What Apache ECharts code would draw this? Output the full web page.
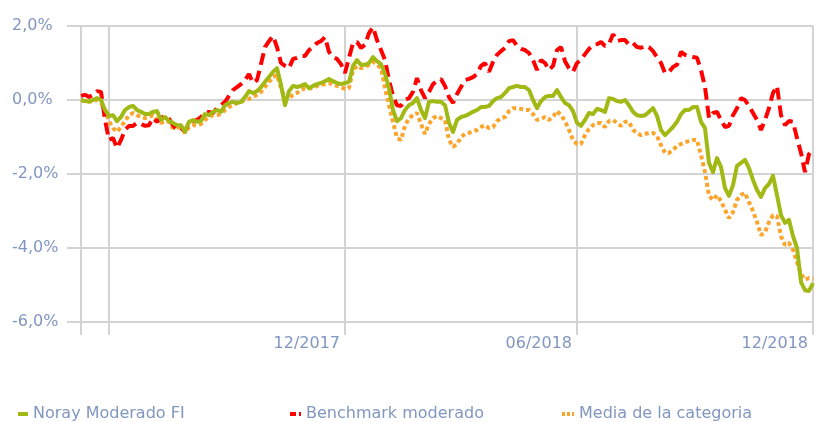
<!DOCTYPE html>
<html><head><meta charset="utf-8">
<script src="https://cdn.jsdelivr.net/npm/echarts@6/dist/echarts.min.js"></script>
<style>html,body{margin:0;padding:0;background:#fff}#c{width:820px;height:422px}</style>
</head><body><div id="c"></div><script>
// Series values (% return), one point per sampled date
const noray = [
 0.00,-0.03,-0.04,0.00,0.05,0.00,-0.27,-0.43,-0.41,-0.57,
 -0.46,-0.27,-0.19,-0.16,-0.27,-0.32,-0.38,-0.38,-0.32,-0.30,
 -0.54,-0.46,-0.57,-0.62,-0.68,-0.68,-0.86,-0.59,-0.54,-0.59,
 -0.57,-0.38,-0.41,-0.32,-0.27,-0.32,-0.14,-0.08,-0.05,-0.08,
 -0.05,0.08,0.24,0.19,0.24,0.35,0.49,0.62,0.76,0.86,
 0.41,-0.14,0.24,0.38,0.35,0.38,0.43,0.32,0.38,0.43,
 0.46,0.51,0.57,0.51,0.46,0.43,0.46,0.49,0.92,1.08,
 0.95,0.95,1.00,1.16,1.05,0.97,0.70,0.32,-0.27,-0.57,
 -0.49,-0.27,-0.14,-0.08,0.05,-0.27,-0.49,-0.05,-0.03,-0.05,
 -0.05,-0.14,-0.62,-0.86,-0.54,-0.46,-0.43,-0.38,-0.32,-0.27,
 -0.19,-0.19,-0.16,-0.03,0.05,0.08,0.19,0.32,0.35,0.38,
 0.35,0.35,0.27,0.00,-0.22,-0.03,0.08,0.11,0.11,0.27,
 0.08,-0.08,-0.14,-0.30,-0.62,-0.70,-0.54,-0.35,-0.38,-0.24,
 -0.27,-0.32,0.05,0.03,-0.03,-0.05,0.00,-0.14,-0.32,-0.41,
 -0.43,-0.41,-0.32,-0.22,-0.43,-0.81,-0.95,-0.84,-0.73,-0.59,
 -0.38,-0.27,-0.27,-0.19,-0.19,-0.59,-0.76,-1.70,-1.95,-1.57,
 -1.81,-2.38,-2.59,-2.30,-1.78,-1.70,-1.62,-1.84,-2.16,-2.43,
 -2.62,-2.38,-2.27,-2.05,-2.57,-3.11,-3.32,-3.24,-3.68,-4.00,
 -4.92,-5.14,-5.16,-4.95
];
const benchmark = [
 0.11,0.14,0.08,0.14,0.24,0.22,-0.54,-1.08,-1.03,-1.30,
 -1.08,-0.81,-0.70,-0.70,-0.62,-0.65,-0.70,-0.68,-0.49,-0.59,
 -0.49,-0.43,-0.51,-0.68,-0.81,-0.76,-0.84,-0.62,-0.57,-0.54,
 -0.46,-0.35,-0.32,-0.35,-0.22,-0.14,-0.05,0.11,0.27,0.35,
 0.43,0.54,0.70,0.46,0.54,0.97,1.43,1.59,1.73,1.43,
 1.00,0.92,0.86,1.11,1.14,1.19,1.19,1.35,1.43,1.54,
 1.59,1.70,1.30,1.16,1.11,0.97,0.73,1.14,1.54,1.57,
 1.41,1.49,1.81,1.97,1.62,1.35,1.08,0.54,0.11,-0.14,
 -0.16,0.00,0.05,0.22,0.59,0.27,0.05,0.22,0.43,0.51,
 0.57,0.38,0.08,-0.08,0.16,0.35,0.54,0.57,0.62,0.70,
 0.92,1.00,0.76,1.03,1.22,1.32,1.41,1.59,1.62,1.46,
 1.38,1.35,1.27,1.08,0.81,1.08,1.00,0.81,0.92,1.35,
 1.43,1.05,0.86,0.76,1.00,1.08,1.24,1.38,1.49,1.51,
 1.57,1.46,1.51,1.78,1.59,1.62,1.62,1.49,1.54,1.43,
 1.41,1.46,1.43,1.32,1.16,1.00,0.73,0.76,0.89,0.95,
 1.30,1.22,1.19,1.16,1.14,0.81,0.35,-0.49,-0.35,-0.32,
 -0.54,-0.73,-0.70,-0.41,-0.22,0.05,0.00,-0.16,-0.35,-0.54,
 -0.81,-0.54,-0.22,0.19,0.38,-0.41,-0.68,-0.57,-0.59,-1.03,
 -1.43,-1.95,-1.46,-1.30
];
const media = [
 0.00,-0.03,-0.05,-0.03,0.00,-0.08,-0.27,-0.57,-0.76,-0.86,
 -0.73,-0.57,-0.41,-0.35,-0.41,-0.46,-0.49,-0.46,-0.41,-0.54,
 -0.62,-0.57,-0.59,-0.76,-0.73,-0.76,-0.89,-0.73,-0.68,-0.68,
 -0.65,-0.54,-0.46,-0.41,-0.41,-0.38,-0.27,-0.19,-0.14,-0.08,
 -0.05,0.00,0.03,0.08,0.14,0.22,0.35,0.49,0.62,0.68,
 0.32,0.03,0.05,0.14,0.19,0.27,0.32,0.32,0.32,0.38,
 0.41,0.43,0.46,0.41,0.38,0.35,0.30,0.32,0.81,0.92,
 0.86,0.89,0.95,1.03,0.95,0.86,0.32,-0.14,-0.59,-1.03,
 -1.08,-0.70,-0.49,-0.41,-0.35,-0.65,-0.92,-0.65,-0.49,-0.43,
 -0.49,-0.54,-1.08,-1.27,-1.19,-1.00,-0.92,-0.89,-0.84,-0.81,
 -0.73,-0.68,-0.76,-0.73,-0.57,-0.49,-0.46,-0.30,-0.22,-0.22,
 -0.24,-0.27,-0.27,-0.38,-0.54,-0.51,-0.46,-0.54,-0.46,-0.30,
 -0.41,-0.57,-0.81,-1.08,-1.19,-1.19,-0.95,-0.78,-0.68,-0.62,
 -0.62,-0.73,-0.57,-0.54,-0.62,-0.70,-0.59,-0.59,-0.81,-0.89,
 -0.95,-0.92,-0.89,-0.89,-0.97,-1.22,-1.43,-1.43,-1.35,-1.24,
 -1.19,-1.14,-1.11,-1.08,-1.08,-1.49,-1.95,-2.59,-2.70,-2.57,
 -2.73,-2.97,-3.19,-3.03,-2.70,-2.57,-2.51,-2.76,-3.00,-3.30,
 -3.65,-3.57,-3.30,-3.11,-3.14,-3.68,-3.92,-3.86,-4.05,-4.38,
 -4.70,-4.86,-4.81,-4.84
];
const seriesNames = ['Noray Moderado FI', 'Benchmark moderado', 'Media de la categoria'];
const categories = noray.map((_, i) => String(i));
const xGridIndex = [0, 7, 66, 124, 183];
const xTickIndex = [66, 124, 183];
const xTickLabels = ['12/2017', '06/2018', '12/2018'];
const yTicks = [-6, -4, -2, 0, 2];

const grey = '#d3d3d3';
const txt = '#8196c0';
const font = 'DejaVu Sans';
const tickExt = 0.35; // vertical gridlines extend slightly below the lowest tick
const chart = echarts.init(document.getElementById('c'));
const legendText = {color: txt, fontSize: 16, fontFamily: font};

const gridSeries = xGridIndex.map((i, k) => ({
  name: 'vgrid' + k, type: 'line', xAxisIndex: 0,
  data: [[i, yTicks[0] - tickExt], [i, yTicks[yTicks.length - 1]]],
  symbol: 'none', clip: false, z: 1,
  lineStyle: {color: grey, width: 2, type: 'solid'}
}));

chart.setOption({
  animation: false,
  grid: {left: 81, right: 7, top: 26, bottom: 100},
  xAxis: [{
    type: 'category', data: categories, boundaryGap: false,
    axisLine: {show: false, onZero: false},
    axisTick: {show: false},
    splitLine: {show: false},
    axisLabel: {
      interval: (i) => xTickIndex.includes(i),
      formatter: (v, i) => { const k = xTickIndex.indexOf(i); return k >= 0 ? xTickLabels[k] : ''; },
      align: 'right', padding: [0, 5, 0, 0], margin: 14,
      color: txt, fontSize: 16, fontFamily: font
    }
  }, {
    type: 'value', position: 'bottom', min: 0, max: categories.length - 1,
    axisLine: {show: false, onZero: false},
    axisLabel: {show: false},
    axisTick: {show: true, customValues: xGridIndex, length: 13, lineStyle: {color: grey, width: 2}},
    splitLine: {show: true, lineStyle: {color: grey, width: 2}}
  }],
  yAxis: {
    type: 'value', min: yTicks[0], max: yTicks[yTicks.length - 1], interval: 2,
    axisLine: {show: false},
    axisTick: {show: true, length: 14, lineStyle: {color: grey, width: 2}},
    splitLine: {show: true, lineStyle: {color: grey, width: 2}},
    axisLabel: {
      formatter: (v) => v.toFixed(1).replace('.', ',') + '%',
      align: 'left', margin: 69, color: txt, fontSize: 16, fontFamily: font
    }
  },
  legend: [
    {left: 11, top: 401, data: [seriesNames[0]], itemWidth: 10, itemHeight: 14, itemStyle: {opacity: 0},
     lineStyle: {width: 4, type: 'solid'}, textStyle: legendText},
    {left: 283, top: 401, data: [seriesNames[1]], itemWidth: 11, itemHeight: 14, itemStyle: {opacity: 0},
     lineStyle: {width: 4, type: [6, 3]}, textStyle: legendText},
    {left: 555, top: 401, data: [seriesNames[2]], itemWidth: 12, itemHeight: 14, itemStyle: {opacity: 0},
     lineStyle: {width: 4, type: [3, 2]}, textStyle: legendText}
  ],
  series: gridSeries.concat([
    {name: seriesNames[0], type: 'line', data: noray, symbol: 'none', z: 4,
     itemStyle: {color: '#a0b914'}, lineStyle: {color: '#a0b914', width: 4, join: 'round'}},
    {name: seriesNames[1], type: 'line', data: benchmark, symbol: 'none', z: 3,
     itemStyle: {color: '#ff0000'}, lineStyle: {color: '#ff0000', width: 4, type: [12, 6], cap: 'butt'}},
    {name: seriesNames[2], type: 'line', data: media, symbol: 'none', z: 2,
     itemStyle: {color: '#fba52c'}, lineStyle: {color: '#fba52c', width: 4, type: [4, 3], cap: 'butt'}}
  ])
});
</script></body></html>
